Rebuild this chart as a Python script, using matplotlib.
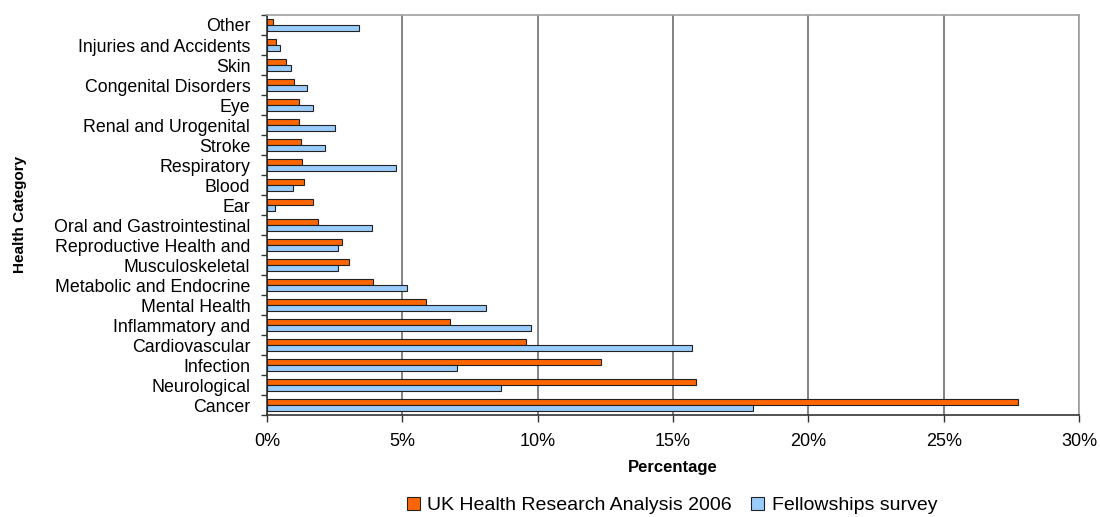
import matplotlib
matplotlib.use("Agg")
import matplotlib.pyplot as plt
import numpy as np
from matplotlib.ticker import FuncFormatter, FixedLocator

categories = ["Cancer", "Neurological", "Infection", "Cardiovascular", "Inflammatory and",
              "Mental Health", "Metabolic and Endocrine", "Musculoskeletal",
              "Reproductive Health and", "Oral and Gastrointestinal", "Ear", "Blood",
              "Respiratory", "Stroke", "Renal and Urogenital", "Eye", "Congenital Disorders",
              "Skin", "Injuries and Accidents", "Other"]
ukhra_2006 = [27.75, 15.85, 12.34, 9.58, 6.75, 5.89, 3.91, 3.02, 2.78, 1.90, 1.71, 1.38,
              1.30, 1.25, 1.20, 1.20, 1.00, 0.69, 0.34, 0.24]
fellowships = [17.95, 8.66, 7.02, 15.69, 9.76, 8.08, 5.16, 2.62, 2.62, 3.87, 0.29, 0.96,
               4.78, 2.15, 2.53, 1.69, 1.49, 0.87, 0.47, 3.40]
series_names = ["UK Health Research Analysis 2006", "Fellowships survey"]
x_ticks = [0, 5, 10, 15, 20, 25, 30]

plt.rcParams['font.family'] = ['Liberation Sans', 'DejaVu Sans']

fig = plt.figure(figsize=(11, 5.17), dpi=100)
ax = fig.add_axes([0.2427, 0.197, 0.9809 - 0.2427, 0.971 - 0.197])

y = np.arange(len(categories))
h = 0.29
ax.barh(y + h / 2, ukhra_2006, height=h, color="#FF6600", edgecolor="#222222",
        linewidth=0.8, label=series_names[0], zorder=3)
ax.barh(y - h / 2, fellowships, height=h, color="#99CCFF", edgecolor="#222222",
        linewidth=0.8, label=series_names[1], zorder=3)

ax.set_xlim(0, 30)
ax.set_ylim(-0.5, len(categories) - 0.5)
ax.xaxis.set_major_locator(FixedLocator(x_ticks))
ax.xaxis.set_major_formatter(FuncFormatter(lambda v, p: f"{int(v)}%"))
ax.grid(axis="x", color="#7a7a7a", linewidth=1.3, zorder=0)
ax.set_yticks(y)
ax.set_yticklabels(categories, fontsize=12.8)
ax.set_yticks(np.arange(-0.5, len(categories), 1), minor=True)
ax.tick_params(axis="y", which="major", length=0, pad=12)
ax.tick_params(axis="y", which="minor", length=4, width=1, color="#333333")
ax.tick_params(axis="x", which="major", length=5, width=1, color="#333333",
               labelsize=13, pad=8)

for s in ["top", "right"]:
    ax.spines[s].set_color("#a0a0a0")
    ax.spines[s].set_linewidth(1.2)
for s in ["left", "bottom"]:
    ax.spines[s].set_color("#333333")
    ax.spines[s].set_linewidth(1.2)

ax.set_xlabel("Percentage", fontsize=12, fontweight="bold", labelpad=7)
fig.text(0.018, 0.586, "Health Category", rotation=90, fontsize=11, fontweight="bold",
         ha="center", va="center")

fig.legend(loc="lower center", bbox_to_anchor=(0.611, 0.006), ncol=2, frameon=False,
           fontsize=14, handlelength=0.65, handleheight=0.65, columnspacing=1.0,
           handletextpad=0.4, borderaxespad=0, borderpad=0)

fig.savefig("out.png", dpi=100, facecolor="white")
